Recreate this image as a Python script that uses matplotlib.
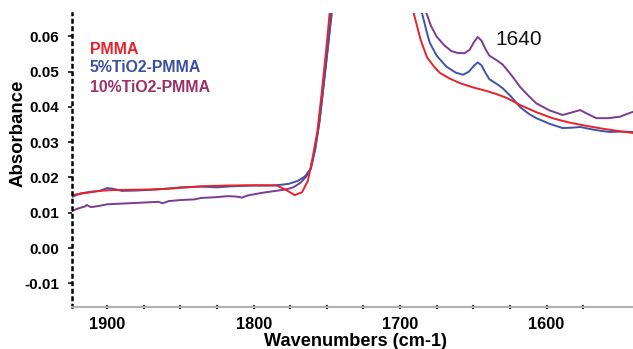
import matplotlib.pyplot as plt
import numpy as np

plt.rcParams['font.family'] = ['Liberation Sans', 'DejaVu Sans']

# PMMA
x_pmma = [1924, 1915, 1905, 1898, 1885, 1870, 1859, 1845, 1836, 1820, 1805, 1791, 1784,
          1778, 1772, 1767, 1763, 1760, 1756.5, 1753.5, 1750.5, 1748, 1745, 1735,
          1700, 1694, 1691, 1686, 1681.7, 1677, 1672.8, 1666, 1659, 1650, 1641, 1634,
          1627, 1618, 1607, 1596, 1585, 1572.5, 1560, 1550, 1541]
y_pmma = [0.0150, 0.0156, 0.0162, 0.0164, 0.0165, 0.0166, 0.0168, 0.0172, 0.0175, 0.0177,
          0.0178, 0.0178, 0.0177, 0.0165, 0.0150, 0.0158, 0.0190, 0.0250, 0.0330, 0.0440,
          0.0560, 0.0670, 0.0850, 0.3000, 0.1200, 0.0800, 0.0670, 0.0590, 0.0541, 0.0515,
          0.0496, 0.0480, 0.0467, 0.0455, 0.0445, 0.0436, 0.0425, 0.0405, 0.0385, 0.0368,
          0.0356, 0.0346, 0.0337, 0.0331, 0.0326]

# 5%TiO2-PMMA
x_5 = [1924, 1918, 1910, 1905, 1900, 1896, 1890, 1880, 1870, 1860, 1850, 1845, 1835,
       1825, 1815, 1800, 1790, 1782, 1776, 1770, 1765, 1761, 1758, 1755, 1752, 1749,
       1747, 1744, 1735, 1700, 1690, 1685.3, 1682, 1679.7, 1675, 1668.4, 1662, 1657,
       1653, 1649.5, 1647, 1644.5, 1641.5, 1639, 1634, 1630, 1624, 1618, 1612, 1607,
       1598, 1589, 1583, 1577, 1570, 1563, 1557, 1549, 1541]
y_5 = [0.0145, 0.0155, 0.0160, 0.0162, 0.0170, 0.0168, 0.0162, 0.0163, 0.0165, 0.0168,
       0.0172, 0.0173, 0.0174, 0.0172, 0.0175, 0.0177, 0.0177, 0.0179, 0.0182, 0.0190,
       0.0203, 0.0225, 0.0280, 0.0360, 0.0470, 0.0580, 0.0670, 0.0850, 0.3000, 0.1400,
       0.0850, 0.0670, 0.0615, 0.0581, 0.0545, 0.0514, 0.0497, 0.0491, 0.0500, 0.0517,
       0.0526, 0.0518, 0.0495, 0.0478, 0.0465, 0.0453, 0.0428, 0.0399, 0.0380, 0.0368,
       0.0352, 0.0340, 0.0341, 0.0343, 0.0337, 0.0332, 0.0329, 0.0330, 0.0329]

# 10%TiO2-PMMA
x_10 = [1924, 1920, 1915, 1914, 1911, 1906, 1900, 1890, 1880, 1870, 1865, 1862, 1858,
        1850, 1840, 1836, 1826, 1818, 1812, 1808, 1804, 1795, 1785, 1778, 1773, 1768,
        1764, 1761, 1758, 1755, 1752, 1749, 1746.5, 1744, 1735, 1700, 1688, 1682.4,
        1679, 1675, 1670, 1665, 1661, 1656, 1652.5, 1649.5, 1647, 1644.5, 1641.5, 1639,
        1634, 1630, 1624, 1618, 1612, 1607, 1598, 1589, 1583, 1577, 1572, 1566, 1558,
        1550, 1545, 1541]
y_10 = [0.0105, 0.0112, 0.0118, 0.0122, 0.0116, 0.0119, 0.0124, 0.0126, 0.0128, 0.0130,
        0.0131, 0.0127, 0.0133, 0.0136, 0.0138, 0.0142, 0.0144, 0.0147, 0.0146, 0.0143,
        0.0149, 0.0156, 0.0162, 0.0166, 0.0172, 0.0185, 0.0203, 0.0225, 0.0280, 0.0360,
        0.0470, 0.0580, 0.0670, 0.0850, 0.3000, 0.1500, 0.0850, 0.0670, 0.0630, 0.0599,
        0.0575, 0.0558, 0.0553, 0.0552, 0.0562, 0.0584, 0.0598, 0.0588, 0.0562, 0.0545,
        0.0532, 0.0520, 0.0490, 0.0456, 0.0430, 0.0410, 0.0390, 0.0377, 0.0384, 0.0391,
        0.0380, 0.0368, 0.0368, 0.0372, 0.0380, 0.0386]

labels = ["PMMA", "5%TiO2-PMMA", "10%TiO2-PMMA"]
line_colors = ["#e8212b", "#3d55a8", "#7b3b8e"]
text_colors = ["#e8212b", "#3b4fa0", "#9b2f6a"]

fig = plt.figure(figsize=(6.33, 3.49), dpi=100)
ax = fig.add_axes([72/633, 42/349, 561/633, 294/349])

ax.plot(x_10, y_10, color=line_colors[2], lw=1.4)
ax.plot(x_5, y_5, color=line_colors[1], lw=1.4)
ax.plot(x_pmma, y_pmma, color=line_colors[0], lw=1.4)

ax.set_xlim(1924, 1541)
ax.set_ylim(-0.0167, 0.0666)
ax.set_xticks([1900, 1800, 1700, 1600])
ax.set_xticks(np.arange(1575, 1925, 25), minor=True)
ax.set_yticks([-0.01, 0.00, 0.01, 0.02, 0.03, 0.04, 0.05, 0.06])
ax.set_yticklabels(["-0.01", "0.00", "0.01", "0.02", "0.03", "0.04", "0.05", "0.06"])

for s in ["top", "right"]:
    ax.spines[s].set_visible(False)
ax.spines["left"].set_linestyle((0, (1, 2)))
ax.spines["left"].set_linewidth(1.8)
ax.spines["bottom"].set_color("#b0b0b0")
ax.spines["bottom"].set_linewidth(1.5)

ax.tick_params(axis="x", which="both", direction="inout", length=3, width=1.5,
               color="#222222", pad=5.4, labelsize=11.8)
ax.tick_params(axis="y", which="major", direction="out", length=3, width=1.3,
               color="#222222", pad=6, labelsize=11)
for t in ax.get_xticklabels() + ax.get_yticklabels():
    t.set_fontweight("bold")

ax.set_xlabel("Wavenumbers (cm-1)", fontsize=13.1, fontweight="bold", va="baseline")
ax.xaxis.set_label_coords(283/561, -39/294)
ax.set_ylabel("Absorbance", fontsize=13.4, fontweight="bold")
ax.yaxis.set_label_coords(-45/561, (349 - 133 - 42) / 294)

for i, lab in enumerate(labels):
    fig.text(90/633, 1 - (49 + 19*i)/349, lab, color=text_colors[i], fontsize=11.4,
             fontweight="bold", va="center", ha="left")

fig.text(519/633, 1 - 39.5/349, "1640", fontsize=15, ha="center", va="center", color="#111111")

fig.savefig("out.png", dpi=100)
